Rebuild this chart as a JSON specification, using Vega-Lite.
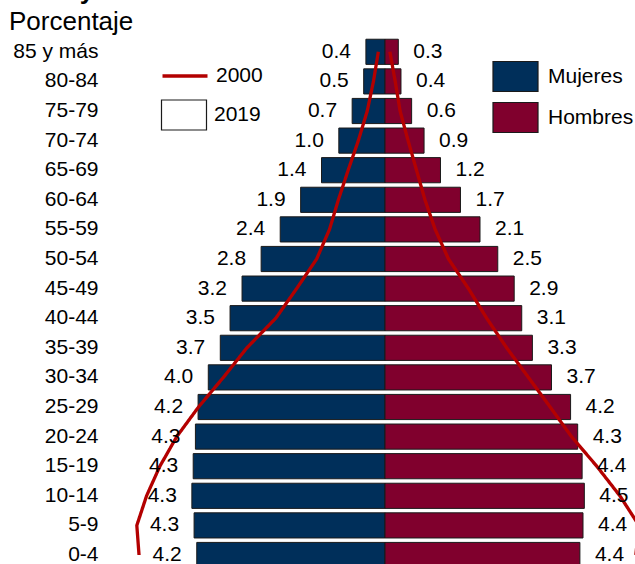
{
  "$schema": "https://vega.github.io/schema/vega-lite/v6.json",
  "width": 527,
  "height": 527,
  "autosize": {"type": "none"},
  "padding": {"left": 108, "top": 37, "right": 0, "bottom": 0},
  "background": "white",
  "config": {
    "view": {"stroke": null},
    "font": "Liberation Sans",
    "text": {"font": "Liberation Sans"}
  },
  "title": {
    "text": "Edad y sexo",
    "subtitle": "Porcentaje",
    "anchor": "start",
    "frame": "group",
    "dx": -99,
    "offset": 2,
    "font": "Liberation Sans",
    "fontSize": 26,
    "fontWeight": "bold",
    "color": "#000",
    "subtitleFont": "Liberation Sans",
    "subtitleFontSize": 26,
    "subtitleColor": "#000",
    "subtitlePadding": 5
  },
  "datasets": {
    "y2019": [
      {"edad": "85 y más", "sexo": "Mujeres", "v": -0.43, "t": "0.4", "serie": "2019"},
      {"edad": "80-84", "sexo": "Mujeres", "v": -0.48, "t": "0.5", "serie": "2019"},
      {"edad": "75-79", "sexo": "Mujeres", "v": -0.74, "t": "0.7", "serie": "2019"},
      {"edad": "70-74", "sexo": "Mujeres", "v": -1.04, "t": "1.0", "serie": "2019"},
      {"edad": "65-69", "sexo": "Mujeres", "v": -1.43, "t": "1.4", "serie": "2019"},
      {"edad": "60-64", "sexo": "Mujeres", "v": -1.90, "t": "1.9", "serie": "2019"},
      {"edad": "55-59", "sexo": "Mujeres", "v": -2.36, "t": "2.4", "serie": "2019"},
      {"edad": "50-54", "sexo": "Mujeres", "v": -2.79, "t": "2.8", "serie": "2019"},
      {"edad": "45-49", "sexo": "Mujeres", "v": -3.22, "t": "3.2", "serie": "2019"},
      {"edad": "40-44", "sexo": "Mujeres", "v": -3.49, "t": "3.5", "serie": "2019"},
      {"edad": "35-39", "sexo": "Mujeres", "v": -3.71, "t": "3.7", "serie": "2019"},
      {"edad": "30-34", "sexo": "Mujeres", "v": -3.98, "t": "4.0", "serie": "2019"},
      {"edad": "25-29", "sexo": "Mujeres", "v": -4.21, "t": "4.2", "serie": "2019"},
      {"edad": "20-24", "sexo": "Mujeres", "v": -4.27, "t": "4.3", "serie": "2019"},
      {"edad": "15-19", "sexo": "Mujeres", "v": -4.32, "t": "4.3", "serie": "2019"},
      {"edad": "10-14", "sexo": "Mujeres", "v": -4.35, "t": "4.3", "serie": "2019"},
      {"edad": "5-9", "sexo": "Mujeres", "v": -4.30, "t": "4.3", "serie": "2019"},
      {"edad": "0-4", "sexo": "Mujeres", "v": -4.24, "t": "4.2", "serie": "2019"},
      {"edad": "85 y más", "sexo": "Hombres", "v": 0.30, "t": "0.3", "serie": "2019"},
      {"edad": "80-84", "sexo": "Hombres", "v": 0.36, "t": "0.4", "serie": "2019"},
      {"edad": "75-79", "sexo": "Hombres", "v": 0.60, "t": "0.6", "serie": "2019"},
      {"edad": "70-74", "sexo": "Hombres", "v": 0.88, "t": "0.9", "serie": "2019"},
      {"edad": "65-69", "sexo": "Hombres", "v": 1.25, "t": "1.2", "serie": "2019"},
      {"edad": "60-64", "sexo": "Hombres", "v": 1.70, "t": "1.7", "serie": "2019"},
      {"edad": "55-59", "sexo": "Hombres", "v": 2.14, "t": "2.1", "serie": "2019"},
      {"edad": "50-54", "sexo": "Hombres", "v": 2.54, "t": "2.5", "serie": "2019"},
      {"edad": "45-49", "sexo": "Hombres", "v": 2.91, "t": "2.9", "serie": "2019"},
      {"edad": "40-44", "sexo": "Hombres", "v": 3.08, "t": "3.1", "serie": "2019"},
      {"edad": "35-39", "sexo": "Hombres", "v": 3.32, "t": "3.3", "serie": "2019"},
      {"edad": "30-34", "sexo": "Hombres", "v": 3.75, "t": "3.7", "serie": "2019"},
      {"edad": "25-29", "sexo": "Hombres", "v": 4.18, "t": "4.2", "serie": "2019"},
      {"edad": "20-24", "sexo": "Hombres", "v": 4.34, "t": "4.3", "serie": "2019"},
      {"edad": "15-19", "sexo": "Hombres", "v": 4.44, "t": "4.4", "serie": "2019"},
      {"edad": "10-14", "sexo": "Hombres", "v": 4.49, "t": "4.5", "serie": "2019"},
      {"edad": "5-9", "sexo": "Hombres", "v": 4.46, "t": "4.4", "serie": "2019"},
      {"edad": "0-4", "sexo": "Hombres", "v": 4.39, "t": "4.4", "serie": "2019"}
    ],
    "y2000": [
      {"edad": "85 y más", "sexo": "Mujeres", "v": -0.15, "o": 0, "serie": "2000"},
      {"edad": "80-84", "sexo": "Mujeres", "v": -0.26, "o": 1, "serie": "2000"},
      {"edad": "75-79", "sexo": "Mujeres", "v": -0.40, "o": 2, "serie": "2000"},
      {"edad": "70-74", "sexo": "Mujeres", "v": -0.60, "o": 3, "serie": "2000"},
      {"edad": "65-69", "sexo": "Mujeres", "v": -0.83, "o": 4, "serie": "2000"},
      {"edad": "60-64", "sexo": "Mujeres", "v": -1.05, "o": 5, "serie": "2000"},
      {"edad": "55-59", "sexo": "Mujeres", "v": -1.25, "o": 6, "serie": "2000"},
      {"edad": "50-54", "sexo": "Mujeres", "v": -1.54, "o": 7, "serie": "2000"},
      {"edad": "45-49", "sexo": "Mujeres", "v": -1.99, "o": 8, "serie": "2000"},
      {"edad": "40-44", "sexo": "Mujeres", "v": -2.46, "o": 9, "serie": "2000"},
      {"edad": "35-39", "sexo": "Mujeres", "v": -3.11, "o": 10, "serie": "2000"},
      {"edad": "30-34", "sexo": "Mujeres", "v": -3.64, "o": 11, "serie": "2000"},
      {"edad": "25-29", "sexo": "Mujeres", "v": -4.20, "o": 12, "serie": "2000"},
      {"edad": "20-24", "sexo": "Mujeres", "v": -4.69, "o": 13, "serie": "2000"},
      {"edad": "15-19", "sexo": "Mujeres", "v": -5.07, "o": 14, "serie": "2000"},
      {"edad": "10-14", "sexo": "Mujeres", "v": -5.37, "o": 15, "serie": "2000"},
      {"edad": "5-9", "sexo": "Mujeres", "v": -5.59, "o": 16, "serie": "2000"},
      {"edad": "0-4", "sexo": "Mujeres", "v": -5.54, "o": 17, "serie": "2000"},
      {"edad": "85 y más", "sexo": "Hombres", "v": 0.11, "o": 0, "serie": "2000"},
      {"edad": "80-84", "sexo": "Hombres", "v": 0.23, "o": 1, "serie": "2000"},
      {"edad": "75-79", "sexo": "Hombres", "v": 0.34, "o": 2, "serie": "2000"},
      {"edad": "70-74", "sexo": "Hombres", "v": 0.52, "o": 3, "serie": "2000"},
      {"edad": "65-69", "sexo": "Hombres", "v": 0.71, "o": 4, "serie": "2000"},
      {"edad": "60-64", "sexo": "Hombres", "v": 0.90, "o": 5, "serie": "2000"},
      {"edad": "55-59", "sexo": "Hombres", "v": 1.13, "o": 6, "serie": "2000"},
      {"edad": "50-54", "sexo": "Hombres", "v": 1.43, "o": 7, "serie": "2000"},
      {"edad": "45-49", "sexo": "Hombres", "v": 1.88, "o": 8, "serie": "2000"},
      {"edad": "40-44", "sexo": "Hombres", "v": 2.29, "o": 9, "serie": "2000"},
      {"edad": "35-39", "sexo": "Hombres", "v": 2.74, "o": 10, "serie": "2000"},
      {"edad": "30-34", "sexo": "Hombres", "v": 3.23, "o": 11, "serie": "2000"},
      {"edad": "25-29", "sexo": "Hombres", "v": 3.72, "o": 12, "serie": "2000"},
      {"edad": "20-24", "sexo": "Hombres", "v": 4.20, "o": 13, "serie": "2000"},
      {"edad": "15-19", "sexo": "Hombres", "v": 4.77, "o": 14, "serie": "2000"},
      {"edad": "10-14", "sexo": "Hombres", "v": 5.29, "o": 15, "serie": "2000"},
      {"edad": "5-9", "sexo": "Hombres", "v": 5.72, "o": 16, "serie": "2000"},
      {"edad": "0-4", "sexo": "Hombres", "v": 5.65, "o": 17, "serie": "2000"}
    ]
  },
  "encoding": {
    "y": {
      "field": "edad",
      "type": "ordinal",
      "sort": ["85 y más", "80-84", "75-79", "70-74", "65-69", "60-64", "55-59", "50-54", "45-49", "40-44", "35-39", "30-34", "25-29", "20-24", "15-19", "10-14", "5-9", "0-4"],
      "scale": {"range": [0, 532.8], "paddingInner": 0.15, "paddingOuter": 0.075},
      "axis": {
        "title": null,
        "domain": false,
        "ticks": false,
        "labelPadding": 10,
        "labelFont": "Liberation Sans",
        "labelFontSize": 21,
        "labelColor": "#000"
      }
    }
  },
  "layer": [
    {
      "data": {"name": "y2019"},
      "mark": {"type": "bar", "stroke": "#1a1a1a", "strokeWidth": 1, "clip": true},
      "encoding": {
        "x": {
          "field": "v",
          "type": "quantitative",
          "scale": {"domain": [-6.239, 5.631], "nice": false, "zero": false},
          "axis": null
        },
        "fill": {
          "field": "sexo",
          "type": "nominal",
          "scale": {"domain": ["Mujeres", "Hombres"], "range": ["#002f5a", "#80002d"]},
          "legend": {
            "title": null,
            "orient": "none",
            "legendX": 384,
            "legendY": 16,
            "padding": 0,
            "rowPadding": 0,
            "symbolType": "M-1,-0.667H1V0.667H-1Z",
            "symbolSize": 2025,
            "symbolStrokeColor": "#1a1a1a",
            "symbolStrokeWidth": 1.2,
            "labelOffset": 9,
            "labelFont": "Liberation Sans",
            "labelFontSize": 21,
            "labelColor": "#000"
          }
        },
        "opacity": {
          "field": "serie",
          "type": "ordinal",
          "scale": {"domain": ["2019"], "range": [1]},
          "legend": {
            "title": null,
            "orient": "none",
            "legendX": 55,
            "legendY": 57,
            "padding": 0,
            "rowPadding": 0,
            "symbolType": "M-1.125,-0.75H1.125V0.75H-1.125Z",
            "symbolSize": 1600,
            "symbolFillColor": "#ffffff",
            "symbolStrokeColor": "#1a1a1a",
            "symbolStrokeWidth": 1.2,
            "symbolOpacity": 1,
            "labelOffset": 9,
            "labelFont": "Liberation Sans",
            "labelFontSize": 21,
            "labelColor": "#000"
          }
        }
      }
    },
    {
      "data": {"name": "y2000"},
      "mark": {"type": "line", "stroke": "#b30000", "strokeWidth": 3.3, "clip": true},
      "encoding": {
        "x": {"field": "v", "type": "quantitative"},
        "detail": {"field": "sexo"},
        "order": {"field": "o", "type": "quantitative"},
        "strokeDash": {
          "field": "serie",
          "type": "nominal",
          "scale": {"domain": ["2000"], "range": [[1, 0]]},
          "legend": {
            "title": null,
            "orient": "none",
            "legendX": 55,
            "legendY": 17,
            "padding": 0,
            "rowPadding": 0,
            "symbolType": "M-1.125,0H1.125",
            "symbolSize": 1600,
            "symbolStrokeColor": "#b30000",
            "symbolStrokeWidth": 3.5,
            "labelOffset": 9,
            "labelFont": "Liberation Sans",
            "labelFontSize": 21,
            "labelColor": "#000"
          }
        }
      }
    },
    {
      "mark": {"type": "rule", "stroke": "#333333", "strokeWidth": 1.5},
      "encoding": {"x": {"datum": 0}}
    },
    {
      "data": {"name": "y2019"},
      "transform": [{"filter": "datum.sexo === 'Mujeres'"}],
      "mark": {"type": "text", "align": "right", "baseline": "middle", "dx": -15, "font": "Liberation Sans", "fontSize": 21, "color": "#000"},
      "encoding": {
        "x": {"field": "v", "type": "quantitative"},
        "text": {"field": "t"}
      }
    },
    {
      "data": {"name": "y2019"},
      "transform": [{"filter": "datum.sexo === 'Hombres'"}],
      "mark": {"type": "text", "align": "left", "baseline": "middle", "dx": 15, "font": "Liberation Sans", "fontSize": 21, "color": "#000"},
      "encoding": {
        "x": {"field": "v", "type": "quantitative"},
        "text": {"field": "t"}
      }
    }
  ]
}
